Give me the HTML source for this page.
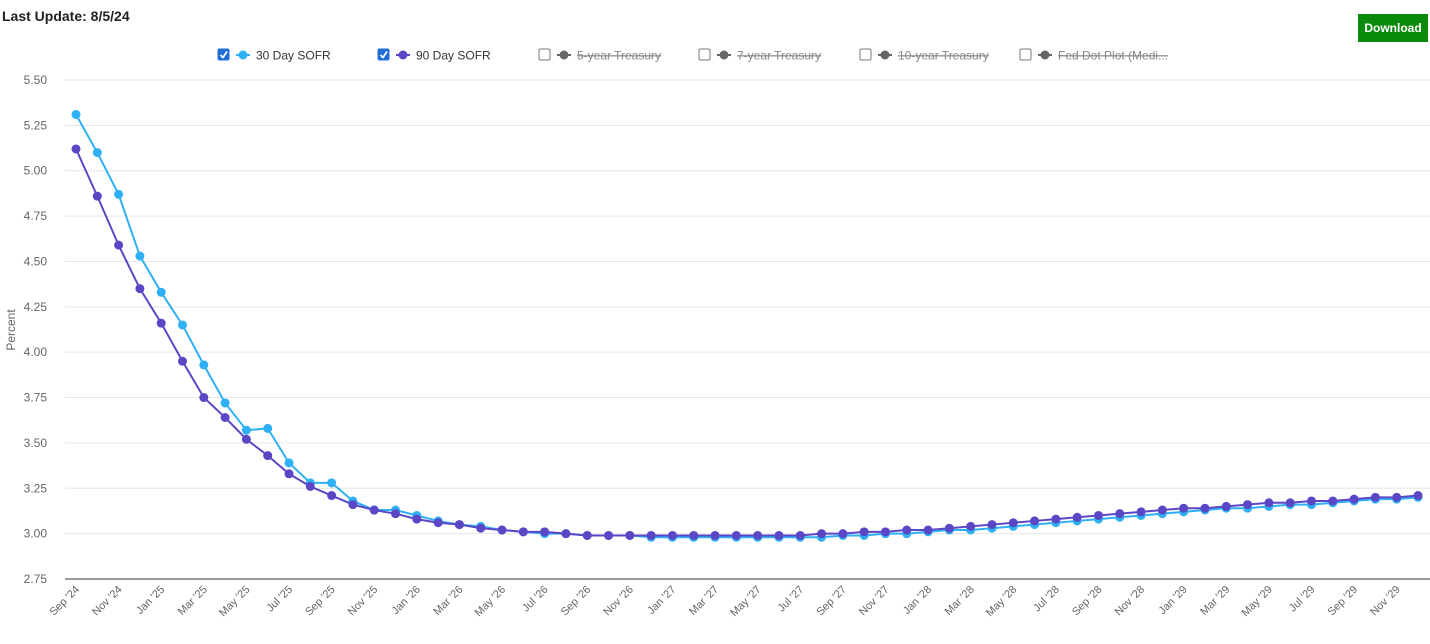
<!DOCTYPE html>
<html><head><meta charset="utf-8"><style>
body{margin:0;background:#fff;font-family:"Liberation Sans",sans-serif;}
#wrap{position:relative;width:1430px;height:644px;overflow:hidden;}
#title{position:absolute;left:2px;top:8px;font-size:14px;font-weight:bold;color:#222;}
#dl{position:absolute;left:1358px;top:14px;width:70px;height:28px;background:#0a8a0a;color:#fff;font-size:12px;font-weight:bold;line-height:28px;text-align:center;}
</style></head><body>
<div id="wrap">
<div id="title">Last Update: 8/5/24</div>
<div id="dl">Download</div>
<svg id="svg" width="1430" height="644" style="position:absolute;left:0;top:0"></svg>
</div>
<script>
const categories=[];
const monthNames=["Jan","Feb","Mar","Apr","May","Jun","Jul","Aug","Sep","Oct","Nov","Dec"];
const sofr30=[5.31,5.10,4.87,4.53,4.33,4.15,3.93,3.72,3.57,3.58,3.39,3.28,3.28,3.18,3.13,3.13,3.10,3.07,3.05,3.04,3.02,3.01,3.00,3.00,
2.99,2.99,2.99,2.98,2.98,2.98,2.98,2.98,2.98,2.98,2.98,2.98,
2.99,2.99,3.00,3.00,3.01,3.02,3.02,3.03,3.04,3.05,3.06,3.07,
3.08,3.09,3.10,3.11,3.12,3.13,3.14,3.14,3.15,3.16,3.16,3.17,
3.18,3.19,3.19,3.20];
const sofr90=[5.12,4.86,4.59,4.35,4.16,3.95,3.75,3.64,3.52,3.43,3.33,3.26,3.21,3.16,3.13,3.11,3.08,3.06,3.05,3.03,3.02,3.01,3.01,3.00,
2.99,2.99,2.99,2.99,2.99,2.99,2.99,2.99,2.99,2.99,2.99,3.00,
3.00,3.01,3.01,3.02,3.02,3.03,3.04,3.05,3.06,3.07,3.08,3.09,
3.10,3.11,3.12,3.13,3.14,3.14,3.15,3.16,3.17,3.17,3.18,3.18,
3.19,3.20,3.20,3.21];
const yTicks=[2.75,3.00,3.25,3.50,3.75,4.00,4.25,4.50,4.75,5.00,5.25,5.50];
const legendItems=["30 Day SOFR","90 Day SOFR","5-year Treasury","7-year Treasury","10-year Treasury","Fed Dot Plot (Medi..."];
for(let i=0;i<sofr30.length;i++){const m=(8+i)%12,y=24+Math.floor((8+i)/12);categories.push(monthNames[m]+" '"+y);}
const NS="http://www.w3.org/2000/svg",svg=document.getElementById('svg');
function mk(t,a,p){const e=document.createElementNS(NS,t);for(const k in a)e.setAttribute(k,a[k]);(p||svg).appendChild(e);return e;}
const x0=76,x1=1418,yB=579,yT=80;
const xs=i=>x0+(x1-x0)*i/(categories.length-1);
const ys=v=>yB-(v-2.75)/(5.5-2.75)*(yB-yT);
yTicks.forEach(t=>{
 if(t>2.75){const g=mk('line',{x1:65,x2:1430,y1:ys(t),y2:ys(t),stroke:'#e6e6e6','stroke-width':1});
 
 }
 const l=mk('text',{x:47,y:ys(t)+4,'text-anchor':'end','font-size':12,fill:'#666'});l.textContent=t.toFixed(2);
 
 
});
const ax=mk('line',{x1:65,x2:1430,y1:yB,y2:yB,stroke:'#333','stroke-width':1});


const yt=mk('text',{x:15,y:330,'text-anchor':'middle','font-size':12,fill:'#666',transform:'rotate(-90 15 330)'});yt.textContent='Percent';


categories.forEach((c,i)=>{if(i%2)return;const x=xs(i)+4,y=590;
 const t=mk('text',{x:x,y:y,'text-anchor':'end','font-size':11,fill:'#666',transform:`rotate(-45 ${x} ${y})`});t.textContent=c;
 
 });
function series(data,color,name){
 const p=mk('polyline',{points:data.map((v,i)=>xs(i)+','+ys(v)).join(' '),fill:'none',stroke:color,'stroke-width':2});
 
 
 data.forEach((v,i)=>{const c=mk('circle',{cx:xs(i),cy:ys(v),r:4.5,fill:color});
  
  });
}
series(sofr30,'#2fb0f5','sofr-30');
series(sofr90,'#5b47c6','sofr-90');
const lx=[218,378,539,699,860,1020],lc=['#2fb0f5','#5b47c6','#666','#666','#666','#666'];
legendItems.forEach((s,i)=>{const x=lx[i],on=i<2;
 const g=mk('g',{});
 
 
 mk('rect',{x:x,y:49,width:11,height:11,rx:1.5,fill:on?'#1f6fd6':'#fff',stroke:on?'#1f6fd6':'#777'},g);
 if(on)mk('path',{d:`M${x+2.5} ${x?55:0} L${x+5} 57.5 L${x+9} 51.5`.replace(/M[^ ]+ [^ ]+/,`M${x+2.5} 55`),stroke:'#fff','stroke-width':1.8,fill:'none'},g);
 mk('line',{x1:x+18,x2:x+32,y1:55,y2:55,stroke:lc[i],'stroke-width':2},g);
 mk('circle',{cx:x+25,cy:55,r:4.5,fill:lc[i]},g);
 const t=mk('text',{x:x+38,y:59.5,'font-size':12,fill:on?'#333':'#888','text-decoration':on?'none':'line-through'},g);t.textContent=s;
});
</script>
</body></html>
